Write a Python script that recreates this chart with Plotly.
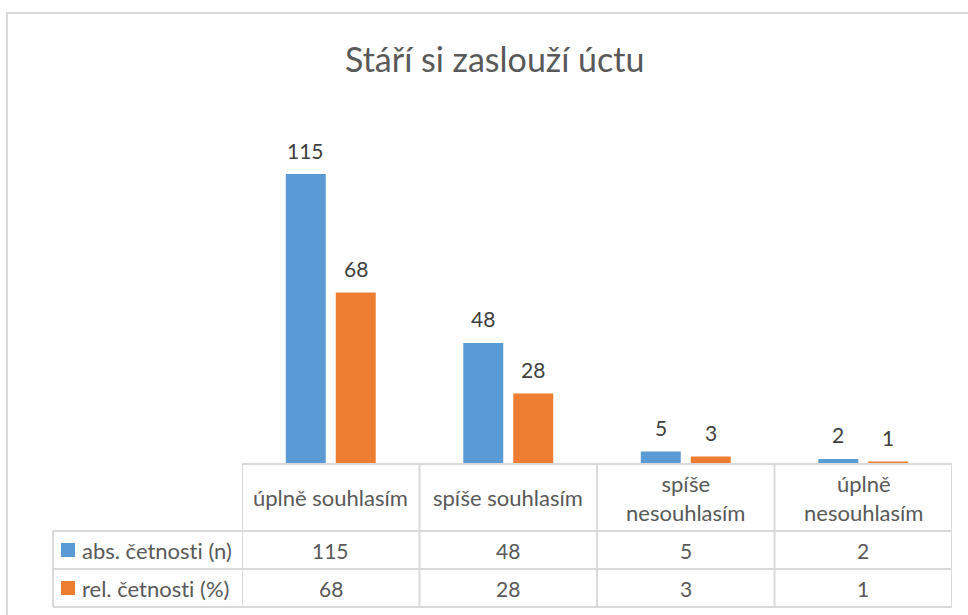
import plotly.graph_objects as go

categories = ["úplně souhlasím", "spíše souhlasím", "spíše nesouhlasím", "úplně nesouhlasím"]
header_labels = ["úplně souhlasím", "spíše souhlasím", "spíše<br>nesouhlasím", "úplně<br>nesouhlasím"]
series_names = ["abs. četnost\u200ci (n)", "rel. četnost\u200ci (%)"]
abs_values = [115, 48, 5, 2]
rel_values = [68, 28, 3, 1]
title_text = "Stáří si zaslouží úctu"

W, H = 968, 615
FONT = "Lato"
BLUE = "#5B9BD5"
ORANGE = "#ED7D31"
GRID = "#D9D9D9"
TXT = "#595959"

def px(x):
    return x / W

def py(y):
    return 1 - y / H

# geometry (pixels)
plot_left, plot_right = 242, 952
base_y, plot_top = 464, 111
tab_left = 53
row_lines = [464, 531, 569, 607]

x_idx = list(range(len(categories)))

fig = go.Figure()
fig.add_trace(go.Bar(x=x_idx, y=abs_values, name=series_names[0], marker_color=BLUE,
                     marker_line_width=0, hoverinfo="skip"))
fig.add_trace(go.Bar(x=x_idx, y=rel_values, name=series_names[1], marker_color=ORANGE,
                     marker_line_width=0, hoverinfo="skip"))

shapes = []
annotations = []

# outer chart border
shapes.append(dict(type="rect", xref="paper", yref="paper", x0=px(7), x1=px(975), y0=py(625), y1=py(13),
                   line=dict(color=GRID, width=2), layer="above"))

# table horizontal lines
shapes.append(dict(type="line", xref="paper", yref="paper", x0=px(plot_left), x1=px(plot_right),
                   y0=py(row_lines[0]), y1=py(row_lines[0]), line=dict(color=GRID, width=2)))
for ry in row_lines[1:]:
    shapes.append(dict(type="line", xref="paper", yref="paper", x0=px(tab_left), x1=px(plot_right),
                       y0=py(ry), y1=py(ry), line=dict(color=GRID, width=2)))
# table vertical lines at category boundaries
for i in range(len(categories) + 1):
    shapes.append(dict(type="line", xref="x", yref="paper", x0=i - 0.5, x1=i - 0.5,
                       y0=py(row_lines[0]), y1=py(row_lines[-1]), line=dict(color=GRID, width=2)))
shapes.append(dict(type="line", xref="paper", yref="paper", x0=px(tab_left), x1=px(tab_left),
                   y0=py(row_lines[1]), y1=py(row_lines[-1]), line=dict(color=GRID, width=2)))

# header row labels
for i, lab in enumerate(header_labels):
    annotations.append(dict(xref="x", yref="paper", x=i, y=py((row_lines[0] + row_lines[1]) / 2),
                            text=lab, showarrow=False, font=dict(family=FONT, size=22, color=TXT),
                            xanchor="center", yanchor="middle"))

# data rows
for r, (vals, color) in enumerate([(abs_values, BLUE), (rel_values, ORANGE)]):
    yc = (row_lines[r + 1] + row_lines[r + 2]) / 2
    shapes.append(dict(type="rect", xref="paper", yref="paper", x0=px(61), x1=px(75),
                       y0=py(yc + 7), y1=py(yc - 7), fillcolor=color, line_width=0))
    annotations.append(dict(xref="paper", yref="paper", x=px(80), y=py(yc), text=series_names[r],
                            showarrow=False, font=dict(family=FONT, size=22, color=TXT),
                            xanchor="left", yanchor="middle"))
    for i, v in enumerate(vals):
        annotations.append(dict(xref="x", yref="paper", x=i, y=py(yc), text=str(v),
                                showarrow=False, font=dict(family=FONT, size=21, color=TXT),
                                xanchor="center", yanchor="middle"))

# data labels above bars
for s, vals in enumerate([abs_values, rel_values]):
    shift = -25 if s == 0 else 25
    for i, v in enumerate(vals):
        annotations.append(dict(xref="x", yref="y", x=i, y=v, text=str(v), showarrow=False,
                                xshift=shift, yshift=24, yanchor="middle",
                                font=dict(family=FONT, size=21, color="#404040")))

annotations.append(dict(xref="paper", yref="paper", x=px(494), y=py(58), text=title_text, showarrow=False,
                        xanchor="center", yanchor="middle",
                        font=dict(family=FONT, size=34, color=TXT)))

fig.update_layout(
    width=W, height=H,
    margin=dict(l=0, r=0, t=0, b=0),
    paper_bgcolor="white", plot_bgcolor="white",
    barmode="group", bargap=0.437, bargroupgap=0.2,
    showlegend=False,
    xaxis=dict(domain=[px(plot_left), px(plot_right)], range=[-0.5, 3.5], showticklabels=False,
               showgrid=False, zeroline=False, showline=False, fixedrange=True),
    yaxis=dict(domain=[py(base_y), py(plot_top)], range=[0, 140], showticklabels=False,
               showgrid=False, zeroline=False, showline=False, fixedrange=True),
    shapes=shapes, annotations=annotations,
)

fig.write_html("out.html", config={"displayModeBar": False},
               post_script="document.body.style.margin='0';document.body.style.overflow='hidden';")
